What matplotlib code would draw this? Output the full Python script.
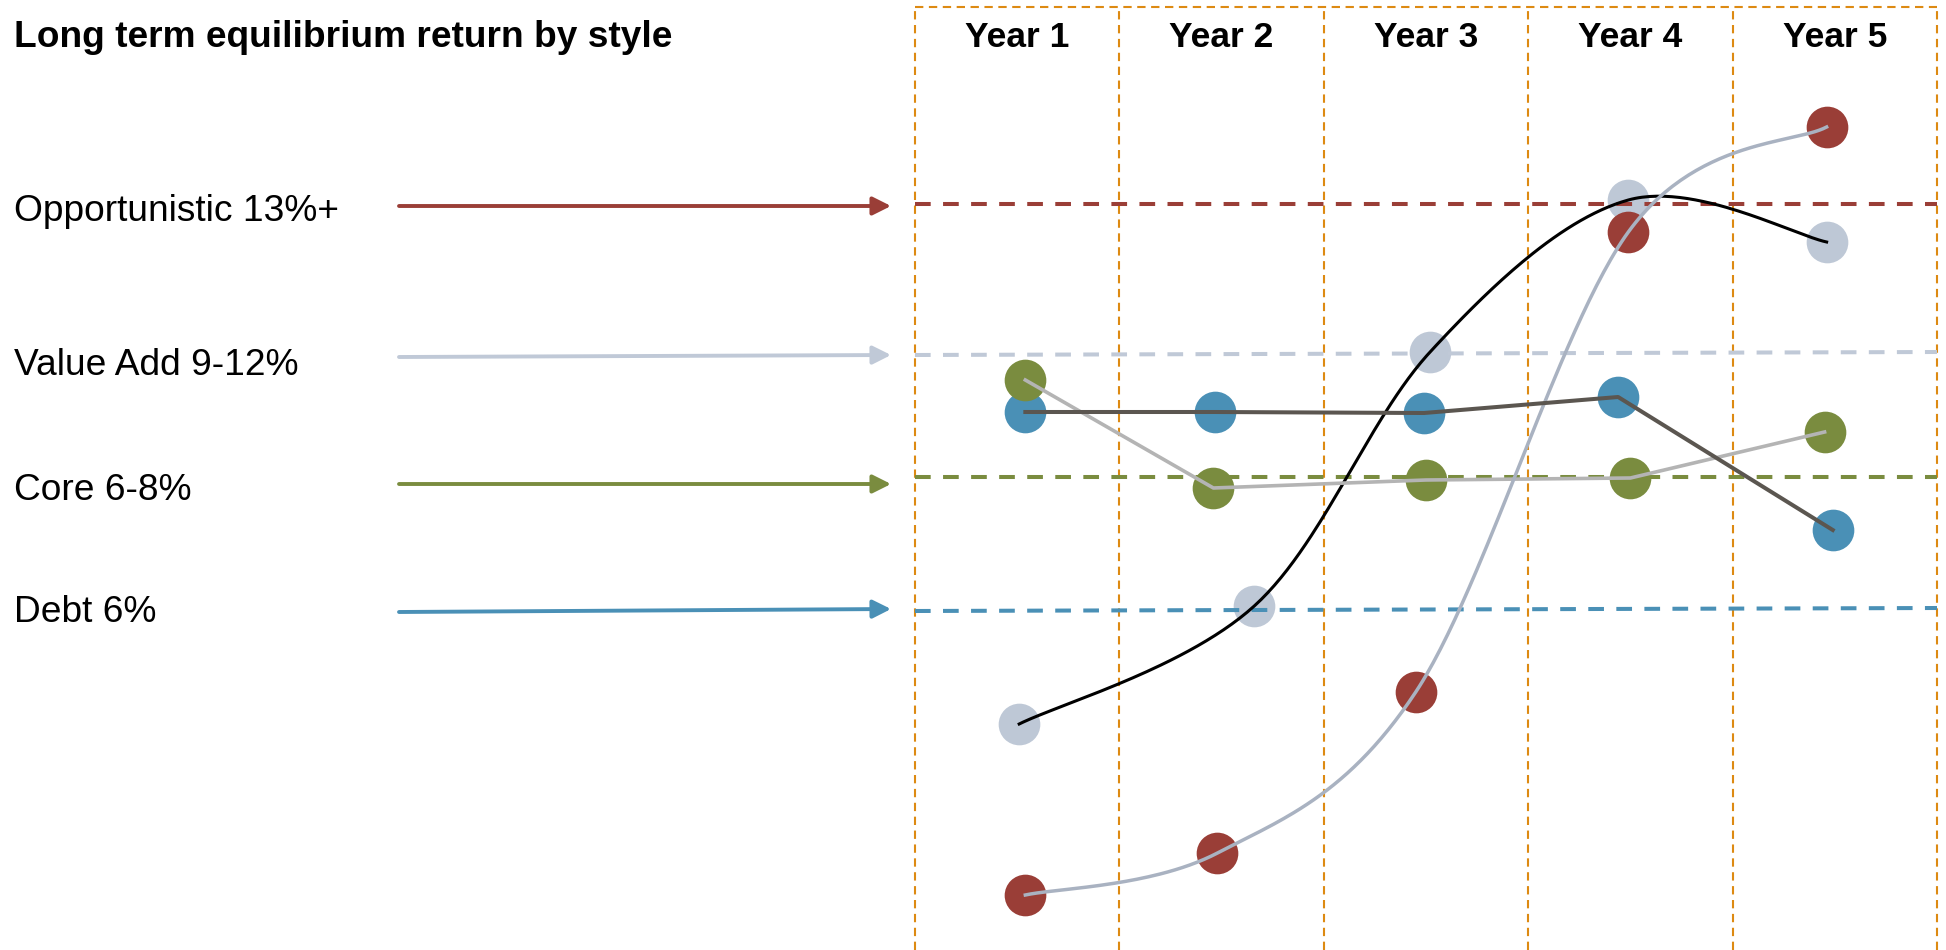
import matplotlib.pyplot as plt
import numpy as np

plt.rcParams["font.family"] = ["Liberation Sans", "DejaVu Sans"]
plt.rcParams["lines.scale_dashes"] = False

# data (x = year position, y = relative return level)
years = ["Year 1", "Year 2", "Year 3", "Year 4", "Year 5"]
styles = ["Opportunistic 13%+", "Value Add 9-12%", "Core 6-8%", "Debt 6%"]
style_colors = ["#9A3E37", "#C0C9D7", "#7A8C3F", "#4A90B6"]
label_base = [72.9, 57.5, 45.0, 32.8]
level_left = [74.6, 59.5, 47.3, 33.9]
level_right = [74.6, 59.8, 47.3, 34.2]
arrow_tail = [74.4, 59.3, 46.6, 33.8]
arrow_head = [74.4, 59.5, 46.6, 34.1]

red_x = [1.04, 1.98, 2.95, 3.99, 4.96]
red_y = [5.5, 9.7, 25.8, 71.8, 82.3]
light_x = [1.01, 2.16, 3.02, 3.99, 4.96]
light_y = [22.6, 34.4, 59.8, 75.0, 70.8]
green_x = [1.04, 1.96, 3.0, 4.0, 4.95]
green_y = [57.0, 46.2, 47.0, 47.2, 51.8]
blue_x = [1.04, 1.97, 2.99, 3.94, 4.99]
blue_y = [53.8, 53.8, 53.7, 55.3, 42.0]

RED, BLUE, GREEN, LIGHT = "#9A3E37", "#4A90B6", "#7A8C3F", "#BEC8D6"
ORANGE = "#DD8A12"


def smooth(xs, ys, k=0.5, n=60):
    # hermite spline through the points (like a "smoothed line")
    p = np.column_stack([xs, ys]).astype(float)
    m = np.zeros_like(p)
    m[1:-1] = k * (p[2:] - p[:-2])
    m[0] = k * (p[1] - p[0])
    m[-1] = k * (p[-1] - p[-2])
    t = np.linspace(0, 1, n)[:, None]
    h00 = 2 * t**3 - 3 * t**2 + 1
    h10 = t**3 - 2 * t**2 + t
    h01 = -2 * t**3 + 3 * t**2
    h11 = t**3 - t**2
    segs = [h00 * p[i] + h10 * m[i] + h01 * p[i + 1] + h11 * m[i + 1]
            for i in range(len(p) - 1)]
    s = np.vstack(segs)
    return s[:, 0], s[:, 1]


fig = plt.figure(figsize=(19.46, 9.5), dpi=100)
ax = fig.add_axes([0, 0, 1, 1])
ax.set_xlim(-3.976, 5.544)
ax.set_ylim(0, 95)
ax.axis("off")

top = 94.27
edges = np.arange(0.5, 6.0, 1.0)
ax.vlines(edges, 0, top, colors=ORANGE, lw=1.5, linestyles=[(0, (6, 4))], zorder=1)
ax.hlines(top, edges[0], edges[-1], colors=ORANGE, lw=1.5, linestyles=[(0, (6, 4))], zorder=1)

for i, y in enumerate(years):
    ax.text(i + 1, 90.3, y, ha="center", va="baseline", fontsize=25.5, fontweight="bold")

ax.text(-3.909, 90.3, "Long term equilibrium return by style", ha="left", va="baseline",
        fontsize=26.7, fontweight="bold")

for name, c, lb, yl, yr, ya, yb in zip(styles, style_colors, label_base, level_left,
                                        level_right, arrow_tail, arrow_head):
    ax.text(-3.909, lb, name, ha="left", va="baseline", fontsize=26.7)
    ax.annotate("", xy=(0.383, yb), xytext=(-2.024, ya),
                arrowprops=dict(arrowstyle="-|>,head_length=1.1,head_width=0.55",
                                lw=2.8, color=c, shrinkA=0, shrinkB=0,
                                mutation_scale=10))
    ax.plot([0.5, 5.5], [yl, yr], color=c, lw=2.9, linestyle=(0, (11.3, 8.9)), zorder=3)

ms = 30
ax.plot(light_x, light_y, "o", ms=ms, color=LIGHT, mec="none", zorder=2)
ax.plot(red_x, red_y, "o", ms=ms, color=RED, mec="none", zorder=2)
ax.plot(blue_x, blue_y, "o", ms=ms, color=BLUE, mec="none", zorder=2)
ax.plot(green_x, green_y, "o", ms=ms, color=GREEN, mec="none", zorder=2)

bx, by = smooth(light_x, light_y)
ax.plot(bx, by, color="black", lw=2.2, zorder=4)
rx, ry = smooth(red_x, red_y)
ax.plot(rx, ry, color="#A9B2C1", lw=2.5, zorder=5)
ax.plot(green_x, green_y, color="#B4B4B4", lw=2.6, zorder=4.5)
ax.plot(blue_x, blue_y, color="#5B5650", lw=2.9, zorder=5.5)

fig.savefig("out.png", dpi=100)
